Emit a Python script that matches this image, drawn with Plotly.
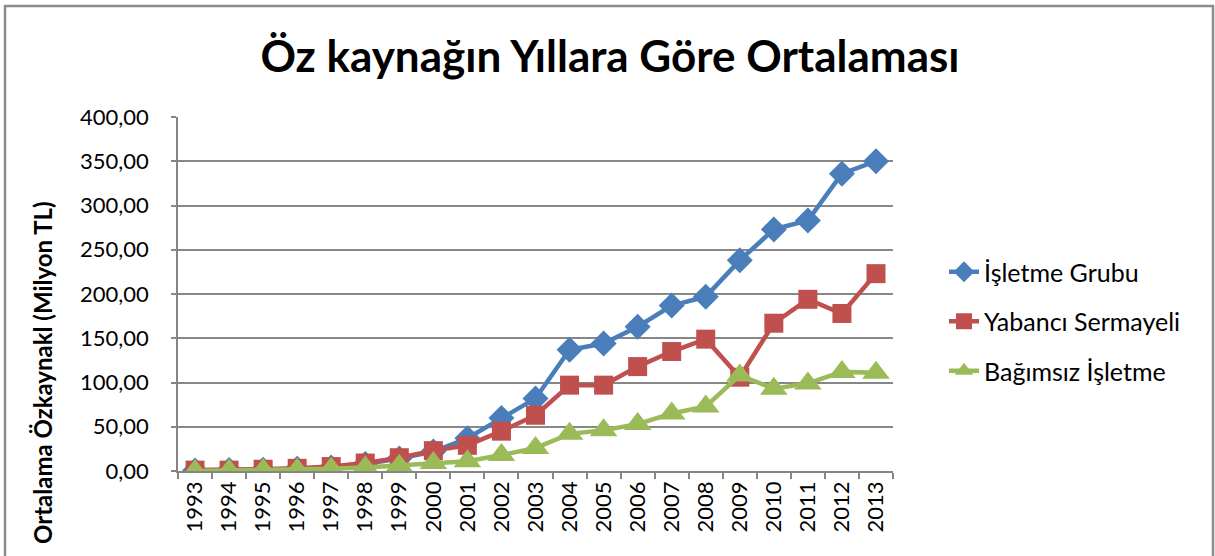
import plotly.graph_objects as go

years = [str(y) for y in range(1993, 2014)]
isletme_grubu = [0.5, 1, 1.5, 2.5, 4, 8, 14, 22, 37, 60, 82, 137, 144, 163, 187, 197, 238, 273, 283, 336, 350]
yabanci_sermayeli = [1, 1, 2, 3, 5, 9, 15, 23, 29, 45, 63, 97, 97, 118, 135, 149, 106, 167, 194, 178, 223]
bagimsiz_isletme = [0, 0.5, 1, 1.5, 2.5, 4, 6, 9, 11, 18, 26, 42, 46, 53, 65, 73, 108, 93, 99, 112, 111]
y_ticks = [0, 50, 100, 150, 200, 250, 300, 350, 400]

FONT = "Lato"
L, R, T, B = 178, 893, 117, 471
W, H = 1215, 556
pw, ph = R - L, B - T

def px(x):
    return (x - L) / pw

def py(y):
    return (B - y) / ph

fig = go.Figure()
series = [
    ("İşletme Grubu", isletme_grubu, "#4A7EBB", "diamond", 20),
    ("Yabancı Sermayeli", yabanci_sermayeli, "#C0504D", "square", 19),
    ("Bağımsız İşletme", bagimsiz_isletme, "#9BBB59", "triangle-up", 24),
]
for i, (name, vals, col, sym, sz) in enumerate(series):
    fig.add_trace(go.Scatter(
        x=years, y=vals, name=name, mode="lines+markers",
        line=dict(color=col, width=4.5),
        marker=dict(symbol=sym, size=sz, color=col),
        legendgroup=f"g{i}",
    ))

fig.update_layout(
    width=W, height=H,
    margin=dict(l=L, r=W - R, t=T, b=H - B),
    paper_bgcolor="white", plot_bgcolor="white",
    separators=",.",
    font=dict(family=FONT, color="#000000"),
    title=dict(text="<b>Öz kaynağın Yıllara Göre Ortalaması</b>",
               x=610 / W, xanchor="center", y=1 - 57 / H, yanchor="middle",
               font=dict(family=FONT, size=44, color="#000000")),
    showlegend=True,
    legend=dict(x=px(944), xanchor="left", y=py(249), yanchor="top",
                font=dict(family=FONT, size=25, color="#000000"),
                traceorder="grouped", tracegroupgap=14,
                bgcolor="rgba(0,0,0,0)"),
    xaxis=dict(type="category", tickangle=-90, tickfont=dict(size=22, family=FONT),
               showgrid=False, showline=True, linecolor="#868686", linewidth=1.5,
               ticks="outside", tickson="boundaries", ticklen=6, tickcolor="#868686",
               tickwidth=1.5, range=[-0.5, 20.5]),
    yaxis=dict(range=[0, 400], tickvals=y_ticks, tickformat=".2f",
               tickfont=dict(size=22, family=FONT), ticklabelstandoff=18,
               showgrid=True, gridcolor="#878787", gridwidth=1.5,
               showline=True, linecolor="#868686", linewidth=1.5,
               ticks="outside", ticklen=5, tickcolor="#868686", tickwidth=1.5,
               zeroline=False),
    annotations=[dict(text="<b>Ortalama Özkaynakl (Milyon TL)</b>", textangle=-90,
                      xref="paper", yref="paper", x=px(42), y=py(373),
                      xanchor="center", yanchor="middle", showarrow=False,
                      font=dict(family=FONT, size=24, color="#000000"))],
    shapes=[dict(type="path", xref="paper", yref="paper",
                 path=f"M {px(5)} {py(600)} L {px(5)} {py(6)} L {px(1213)} {py(6)} L {px(1213)} {py(600)}",
                 line=dict(color="#8C8C8C", width=2.5))],
)

fig.write_html("out.html", config={"displayModeBar": False},
               post_script="document.body.style.margin='0';document.body.style.overflow='hidden';")
